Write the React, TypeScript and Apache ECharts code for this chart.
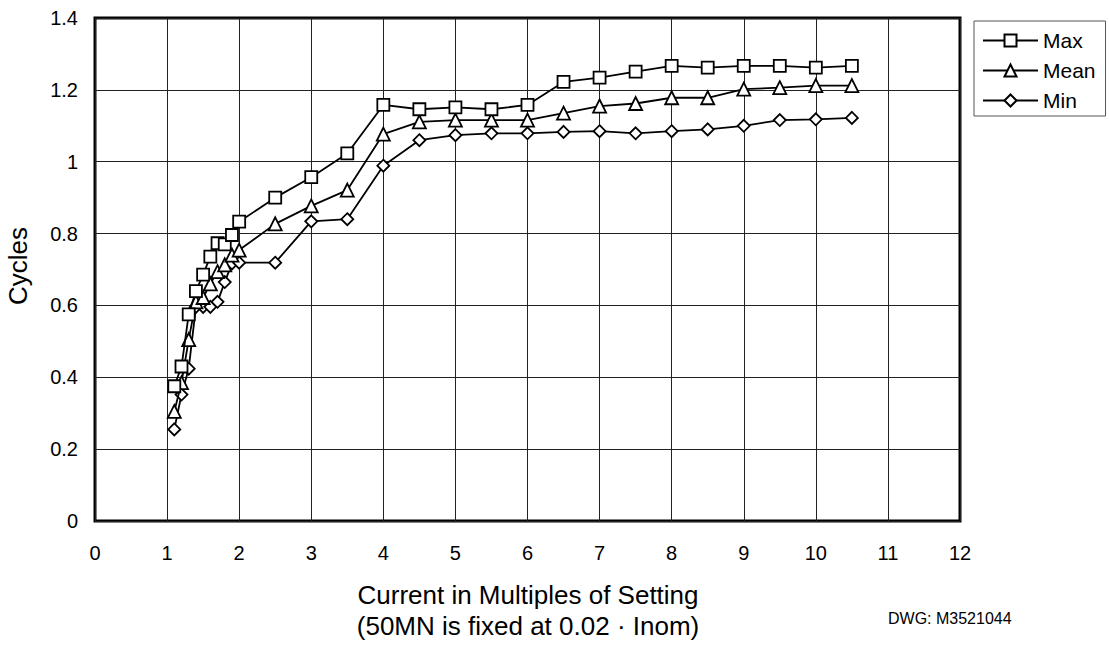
import React, { useEffect, useRef } from "react";
import * as echarts from "echarts";

const xValues = [1.1, 1.2, 1.3, 1.4, 1.5, 1.6, 1.7, 1.8, 1.9, 2.0, 2.5, 3, 3.5, 4, 4.5, 5, 5.5, 6, 6.5, 7, 7.5, 8, 8.5, 9, 9.5, 10, 10.5];
const maxValues = [0.375, 0.43, 0.575, 0.64, 0.686, 0.736, 0.773, 0.77, 0.796, 0.833, 0.9, 0.957, 1.023, 1.158, 1.146, 1.151, 1.146, 1.158, 1.222, 1.234, 1.251, 1.267, 1.262, 1.267, 1.267, 1.262, 1.267];
const meanValues = [0.305, 0.385, 0.505, 0.61, 0.622, 0.66, 0.694, 0.713, 0.74, 0.754, 0.827, 0.877, 0.921, 1.077, 1.111, 1.116, 1.116, 1.116, 1.135, 1.155, 1.162, 1.178, 1.178, 1.202, 1.206, 1.212, 1.212];
const minValues = [0.255, 0.352, 0.424, 0.596, 0.596, 0.596, 0.61, 0.665, 0.717, 0.719, 0.719, 0.834, 0.84, 0.989, 1.06, 1.074, 1.079, 1.079, 1.083, 1.085, 1.079, 1.085, 1.09, 1.1, 1.116, 1.118, 1.122];
const seriesNames = ["Max", "Mean", "Min"];
const seriesSymbols = ["rect", "triangle", "diamond"];

const FONT = "'Liberation Sans', Arial, Helvetica, sans-serif";

export default function App() {
  const ref = useRef<HTMLDivElement>(null);
  useEffect(() => {
    if (!ref.current) return;
    const chart = echarts.init(ref.current, null, { renderer: "svg" });
    const all = [maxValues, meanValues, minValues];
    const series = all.map((vals, i) => ({
      name: seriesNames[i],
      type: "line",
      data: xValues.map((x, j) => [x, vals[j]]),
      symbol: seriesSymbols[i],
      symbolSize: i === 1 ? 13 : 12,
      color: "#000",
      lineStyle: { color: "#000", width: 1.8 },
      itemStyle: { color: "#fff", borderColor: "#000", borderWidth: 1.8 },
      z: 3 - i,
    }));
    chart.setOption({
      animation: false,
      textStyle: { fontFamily: FONT },
      grid: {
        left: 95,
        right: 149,
        top: 18,
        bottom: 128,
        show: true,
        borderColor: "#000",
        borderWidth: 3,
        backgroundColor: "transparent",
      },
      xAxis: {
        type: "value",
        min: 0,
        max: 12,
        interval: 1,
        axisLine: { show: false },
        axisTick: { show: false },
        axisLabel: { fontSize: 20, color: "#000", margin: 22, fontFamily: FONT },
        splitLine: { show: true, lineStyle: { color: "#222", width: 1 } },
      },
      yAxis: {
        type: "value",
        min: 0,
        max: 1.4,
        interval: 0.2,
        axisLine: { show: false },
        axisTick: { show: false },
        axisLabel: { fontSize: 20, color: "#000", margin: 17, fontFamily: FONT },
        splitLine: { show: true, lineStyle: { color: "#222", width: 1 } },
      },
      legend: {
        orient: "vertical",
        left: 974,
        top: 21,
        padding: [9, 10, 5, 8],
        itemWidth: 55,
        itemHeight: 15,
        itemGap: 9,
        borderColor: "#555",
        borderWidth: 1,
        backgroundColor: "#fff",
        textStyle: { fontSize: 21, color: "#000", fontFamily: FONT, lineHeight: 15 },
        data: seriesNames,
      },
      graphic: [
        {
          type: "text",
          x: 18,
          y: 266,
          rotation: Math.PI / 2,
          style: { text: "Cycles", fontSize: 26, fontFamily: FONT, fill: "#000", align: "center", verticalAlign: "middle" },
        },
        {
          type: "text",
          x: 528,
          y: 595,
          style: { text: "Current in Multiples of Setting", fontSize: 26, fontFamily: FONT, fill: "#000", align: "center", verticalAlign: "middle" },
        },
        {
          type: "text",
          x: 528,
          y: 626,
          style: { text: "(50MN is fixed at 0.02 · Inom)", fontSize: 26, fontFamily: FONT, fill: "#000", align: "center", verticalAlign: "middle" },
        },
        {
          type: "text",
          x: 888,
          y: 618,
          style: { text: "DWG: M3521044", fontSize: 16, fontFamily: FONT, fill: "#000", align: "left", verticalAlign: "middle" },
        },
      ],
      series,
    });
    return () => chart.dispose();
  }, []);
  return <div ref={ref} style={{ position: "fixed", left: 0, top: 0, width: 1109, height: 649, background: "#fff" }} />;
}
